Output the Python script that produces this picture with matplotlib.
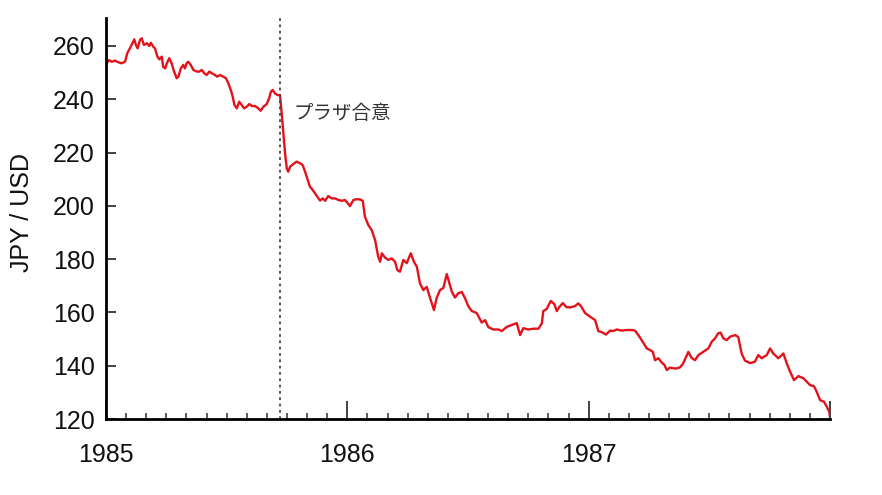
import matplotlib
matplotlib.use("Agg")
import matplotlib.pyplot as plt
from matplotlib.ticker import MultipleLocator, FixedLocator

# Decimal year and JPY per USD
years = [1985.003, 1985.012, 1985.024, 1985.037, 1985.051, 1985.065, 1985.079, 1985.088, 1985.099, 1985.109,
         1985.117, 1985.124, 1985.131, 1985.141, 1985.148, 1985.157, 1985.169, 1985.179, 1985.186, 1985.196,
         1985.203, 1985.213, 1985.221, 1985.231, 1985.237, 1985.245, 1985.252, 1985.262, 1985.272, 1985.282,
         1985.293, 1985.300, 1985.310, 1985.320, 1985.327, 1985.334, 1985.341, 1985.351, 1985.362, 1985.376,
         1985.387, 1985.397, 1985.407, 1985.417, 1985.428, 1985.438, 1985.452, 1985.461, 1985.472, 1985.486,
         1985.497, 1985.507, 1985.517, 1985.525, 1985.532, 1985.542, 1985.552, 1985.562, 1985.572, 1985.583,
         1985.594, 1985.604, 1985.617, 1985.631, 1985.641, 1985.652, 1985.666, 1985.676, 1985.683, 1985.691,
         1985.700, 1985.710, 1985.721, 1985.728, 1985.735, 1985.742, 1985.749, 1985.755, 1985.763, 1985.776,
         1985.790, 1985.804, 1985.815, 1985.825, 1985.836, 1985.845, 1985.857, 1985.866, 1985.876, 1985.887,
         1985.898, 1985.908, 1985.921, 1985.935, 1985.949, 1985.963, 1985.977, 1985.990, 1986.000, 1986.011,
         1986.025, 1986.039, 1986.053, 1986.064, 1986.073, 1986.087, 1986.101, 1986.115, 1986.128, 1986.136,
         1986.143, 1986.156, 1986.170, 1986.184, 1986.198, 1986.207, 1986.218, 1986.232, 1986.246, 1986.263,
         1986.276, 1986.288, 1986.301, 1986.315, 1986.329, 1986.343, 1986.359, 1986.370, 1986.384, 1986.398,
         1986.412, 1986.419, 1986.433, 1986.446, 1986.460, 1986.474, 1986.488, 1986.501, 1986.516, 1986.536,
         1986.557, 1986.571, 1986.584, 1986.605, 1986.626, 1986.640, 1986.661, 1986.681, 1986.702, 1986.716,
         1986.729, 1986.750, 1986.771, 1986.792, 1986.806, 1986.812, 1986.826, 1986.843, 1986.858, 1986.868,
         1986.879, 1986.893, 1986.908, 1986.923, 1986.944, 1986.957, 1986.968, 1986.985, 1987.006, 1987.027,
         1987.040, 1987.054, 1987.072, 1987.089, 1987.102, 1987.116, 1987.137, 1987.158, 1987.179, 1987.192,
         1987.206, 1987.224, 1987.241, 1987.254, 1987.266, 1987.275, 1987.289, 1987.303, 1987.314, 1987.324,
         1987.337, 1987.354, 1987.365, 1987.379, 1987.392, 1987.413, 1987.427, 1987.441, 1987.455, 1987.475,
         1987.496, 1987.510, 1987.524, 1987.537, 1987.547, 1987.558, 1987.572, 1987.586, 1987.607, 1987.620,
         1987.634, 1987.648, 1987.669, 1987.689, 1987.703, 1987.717, 1987.738, 1987.752, 1987.765, 1987.786,
         1987.807, 1987.821, 1987.835, 1987.851, 1987.869, 1987.890, 1987.904, 1987.918, 1987.934, 1987.945,
         1987.959, 1987.975, 1987.987, 1987.997, 1988.000]
rates = [253.5, 254.7, 254.1, 254.5, 253.9, 253.5, 254.1, 257.3, 259.1, 261.0,
         262.5, 260.4, 259.1, 262.3, 262.9, 260.4, 261.0, 260.0, 261.2, 259.7,
         259.1, 256.0, 255.0, 256.0, 252.2, 251.6, 253.5, 255.4, 253.5, 250.4,
         247.9, 248.5, 251.6, 252.9, 251.6, 253.5, 254.1, 252.9, 251.0, 250.4,
         250.4, 251.0, 249.8, 249.1, 250.4, 249.8, 249.1, 248.5, 249.1, 248.5,
         247.9, 246.0, 243.5, 241.0, 237.9, 236.6, 239.1, 237.9, 236.6, 237.2,
         238.2, 237.5, 237.5, 236.6, 235.7, 237.2, 238.2, 240.4, 242.8, 243.5,
         242.2, 241.6, 241.6, 234.7, 227.2, 219.7, 214.1, 212.8, 214.7, 215.7,
         216.6, 216.0, 215.3, 212.8, 209.7, 207.2, 205.9, 204.7, 203.4, 202.0,
         202.8, 201.9, 203.7, 202.8, 202.8, 202.2, 201.9, 202.2, 201.2, 199.9,
         202.2, 202.5, 202.4, 201.9, 195.9, 192.8, 190.9, 187.2, 180.9, 179.0,
         182.2, 180.6, 179.7, 180.3, 179.0, 175.9, 175.3, 179.7, 178.5, 182.2,
         179.0, 177.2, 170.9, 168.4, 169.6, 165.4, 160.9, 165.4, 168.4, 169.2,
         174.4, 172.2, 167.8, 165.6, 167.2, 167.7, 165.3, 162.4, 160.5, 159.8,
         156.2, 157.1, 154.5, 153.6, 153.6, 153.0, 154.6, 155.3, 156.0, 151.5,
         154.1, 153.6, 153.9, 153.9, 155.9, 160.5, 161.3, 164.3, 163.1, 160.5,
         162.1, 163.5, 162.0, 161.9, 162.4, 163.4, 162.4, 159.8, 158.4, 157.1,
         153.0, 152.6, 151.7, 153.2, 153.0, 153.6, 153.2, 153.4, 153.4, 153.2,
         151.5, 149.0, 146.5, 145.9, 145.2, 142.1, 142.8, 141.2, 140.3, 138.4,
         139.3, 139.0, 139.0, 139.4, 140.9, 145.2, 142.9, 142.1, 144.0, 145.2,
         146.5, 149.0, 150.3, 152.2, 152.4, 150.3, 149.6, 150.9, 151.5, 150.8,
         144.6, 141.9, 141.0, 141.5, 144.0, 142.8, 144.0, 146.5, 144.6, 142.8,
         144.6, 140.9, 137.7, 134.6, 136.1, 135.3, 134.0, 132.7, 132.3, 130.2,
         127.1, 126.5, 124.6, 122.7, 120.8]

year_ticks = [1985, 1986, 1987, 1988]
year_labels = ["1985", "1986", "1987", ""]
y_ticks = [120, 140, 160, 180, 200, 220, 240, 260]
plaza_date = 1985.72
plaza_label = "プラザ合意"
plaza_text_pos = (1985.775, 234.8)

plt.rcParams['font.family'] = ['Liberation Sans', 'DejaVu Sans']

fig = plt.figure(figsize=(8.82, 4.95), dpi=100)
ax = fig.add_axes([0.1202, 0.1535, 0.8208, 0.8101])

ax.plot(years, rates, color="#e3121b", lw=1.7, solid_joinstyle="round")
ax.axvline(plaza_date, color="#444444", lw=1.3, linestyle=(0, (1.5, 2.0)))
ax.text(plaza_text_pos[0], plaza_text_pos[1], plaza_label, fontsize=14,
        color="#333333", va="center", ha="left",
        family=['Noto Sans CJK JP', 'DejaVu Sans'])

ax.set_xlim(1985, 1988)
ax.set_ylim(120, 270.5)

ax.xaxis.set_major_locator(FixedLocator(year_ticks))
ax.set_xticklabels(year_labels)
ax.xaxis.set_minor_locator(MultipleLocator(1 / 12))
ax.yaxis.set_major_locator(FixedLocator(y_ticks))

ax.tick_params(axis="x", which="major", direction="in", length=13, width=1.3,
               pad=17, labelsize=18, color="#333333", labelcolor="#111111")
ax.tick_params(axis="x", which="minor", direction="in", length=4, width=1.1,
               color="#333333")
ax.tick_params(axis="y", which="major", direction="in", length=7, width=1.3,
               pad=8, labelsize=18, color="#333333", labelcolor="#111111")

for side in ("top", "right"):
    ax.spines[side].set_visible(False)
for side in ("left", "bottom"):
    ax.spines[side].set_linewidth(2.0)
    ax.spines[side].set_color("black")

ax.set_ylabel("JPY / USD", fontsize=18, color="#111111")
ax.yaxis.set_label_coords(-0.1, 0.516)

fig.savefig("out.png", dpi=100, facecolor="white")
